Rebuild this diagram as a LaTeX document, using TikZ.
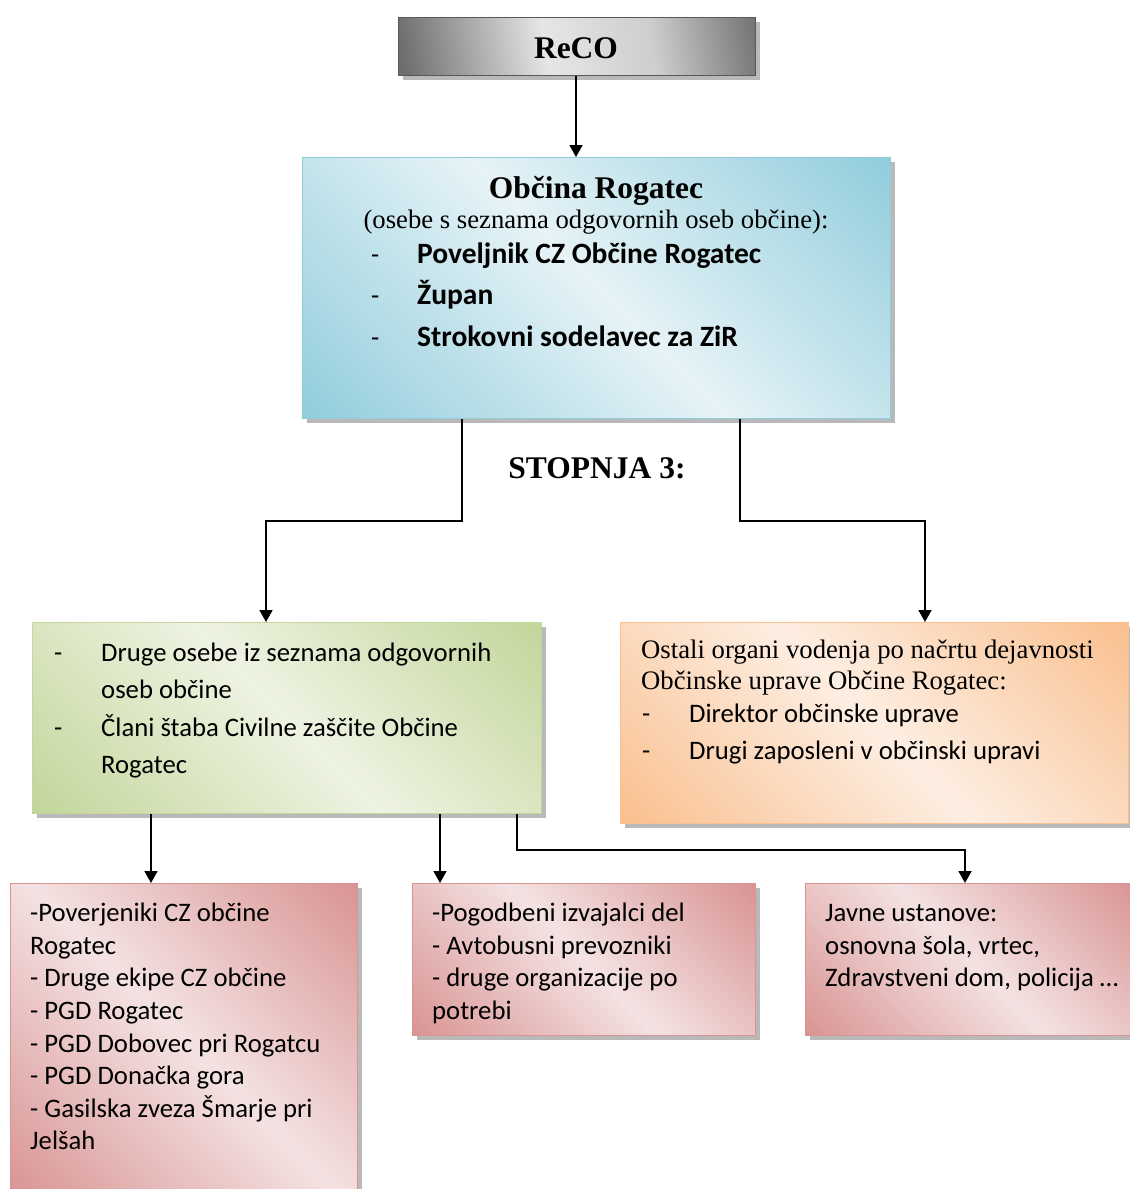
\documentclass[tikz,border=0pt]{standalone}
\usepackage{fontspec}
\setmainfont{Liberation Serif}
\newfontfamily\calfont{Carlito}
\usetikzlibrary{arrows.meta,shadows}
\definecolor{grdark}{HTML}{6E6E6E}
\definecolor{grlight}{HTML}{E6E6E6}
\definecolor{bldark}{HTML}{92CDDC}
\definecolor{bllight}{HTML}{E6F3F7}
\definecolor{gndark}{HTML}{C3D69B}
\definecolor{gnlight}{HTML}{EEF3E2}
\definecolor{ordark}{HTML}{FAC090}
\definecolor{orlight}{HTML}{FDEEE2}
\definecolor{rddark}{HTML}{D99594}
\definecolor{rdlight}{HTML}{F4E2E2}
\definecolor{shgr}{HTML}{A8A8A8}
\pgfdeclarehorizontalshading{shgray}{100bp}{color(0bp)=(grdark);color(22bp)=(grdark);color(45bp)=(grlight);color(62bp)=(grlight!80!grdark);color(80bp)=(grdark);color(100bp)=(grdark)}
\pgfdeclarehorizontalshading{shblue}{100bp}{color(0bp)=(bldark);color(15bp)=(bldark);color(50bp)=(bllight);color(85bp)=(bldark);color(100bp)=(bldark)}
\pgfdeclarehorizontalshading{shgreen}{100bp}{color(0bp)=(gndark);color(15bp)=(gndark);color(50bp)=(gnlight);color(85bp)=(gndark);color(100bp)=(gndark)}
\pgfdeclarehorizontalshading{shorange}{100bp}{color(0bp)=(ordark);color(15bp)=(ordark);color(50bp)=(orlight);color(85bp)=(ordark);color(100bp)=(ordark)}
\pgfdeclarehorizontalshading{shred}{100bp}{color(0bp)=(rddark);color(15bp)=(rddark);color(50bp)=(rdlight);color(85bp)=(rddark);color(100bp)=(rddark)}
\tikzset{
  boxbase/.style={rectangle, inner sep=0pt, anchor=north west, line width=1pt,
    drop shadow={shadow xshift=4pt, shadow yshift=-4pt, fill=shgr, opacity=0.8}},
  arr/.style={line width=1.8pt, -{Triangle[length=12pt,width=13pt]}},
  ln/.style={anchor=base west, inner sep=0pt},
  serif/.style={font=\fontsize{26.7}{30}\selectfont},
  sans/.style={font=\calfont\fontsize{26.7}{30}\selectfont},
  sansb/.style={font=\calfont\bfseries\fontsize{29.5}{32}\selectfont},
  big/.style={font=\bfseries\fontsize{31.5}{34}\selectfont},
}
\begin{document}
\begin{tikzpicture}[x=1pt,y=-1pt]
\useasboundingbox (0,0) rectangle (1130,1189);
% boxes
\node[boxbase, draw=grdark!80!black, shading=shgray, shading angle=10, minimum width=357pt, minimum height=58pt] (reco) at (398,17) {};
\node[boxbase, draw=bldark, shading=shblue, shading angle=45, minimum width=588pt, minimum height=261pt] (obc) at (302,157) {};
\node[boxbase, draw=gndark, shading=shgreen, shading angle=45, minimum width=509pt, minimum height=191pt] (grn) at (32,622) {};
\node[boxbase, draw=ordark, shading=shorange, shading angle=45, minimum width=508pt, minimum height=201pt] (org) at (620,622) {};
\node[boxbase, draw=rddark, shading=shred, shading angle=45, minimum width=347pt, minimum height=312pt] (rd1) at (10,883) {};
\node[boxbase, draw=rddark, shading=shred, shading angle=45, minimum width=343pt, minimum height=152pt] (rd2) at (412,883) {};
\node[boxbase, draw=rddark, shading=shred, shading angle=45, minimum width=330pt, minimum height=152pt] (rd3) at (805,883) {};
% texts
\node[big, anchor=base, inner sep=0pt] (tr) at (576,58) {ReCO};
\node[big, anchor=base, inner sep=0pt] (to1) at (596,198) {Občina Rogatec};
\node[serif, anchor=base, inner sep=0pt] (to2) at (596,228) {(osebe s seznama odgovornih oseb občine):};
\node[sans, ln] (to3d) at (371,263) {-};
\node[sansb, ln] (to3) at (417,263) {Poveljnik CZ Občine Rogatec};
\node[sans, ln] (to4d) at (371,304) {-};
\node[sansb, ln] (to4) at (417,304) {Župan};
\node[sans, ln] (to5d) at (371,346) {-};
\node[sansb, ln] (to5) at (417,346) {Strokovni sodelavec za ZiR};
\node[big, anchor=base, inner sep=0pt] (st) at (597,478) {STOPNJA 3:};
% green
\node[sans, ln] (tg1d) at (54,661) {-};
\node[sans, ln] (tg1) at (101,661) {Druge osebe iz seznama odgovornih};
\node[sans, ln] (tg2) at (101,698) {oseb občine};
\node[sans, ln] (tg3d) at (54,736) {-};
\node[sans, ln] (tg3) at (101,736) {Člani štaba Civilne zaščite Občine};
\node[sans, ln] (tg4) at (101,773) {Rogatec};
% orange
\node[serif, ln] (tor1) at (641,658) {Ostali organi vodenja po načrtu dejavnosti};
\node[serif, ln] (tor2) at (641,689) {Občinske uprave Občine Rogatec:};
\node[sans, ln] (tor3d) at (642,722) {-};
\node[sans, ln] (tor3) at (689,722) {Direktor občinske uprave};
\node[sans, ln] (tor4d) at (642,759) {-};
\node[sans, ln] (tor4) at (689,759) {Drugi zaposleni v občinski upravi};
% red 1
\node[sans, ln] (r11) at (30,921) {-Poverjeniki CZ občine};
\node[sans, ln] (r12) at (30,954) {Rogatec};
\node[sans, ln] (r13) at (30,986) {- Druge ekipe CZ občine};
\node[sans, ln] (r14) at (30,1019) {- PGD Rogatec};
\node[sans, ln] (r15) at (30,1052) {- PGD Dobovec pri Rogatcu};
\node[sans, ln] (r16) at (30,1084) {- PGD Donačka gora};
\node[sans, ln] (r17) at (30,1117) {- Gasilska zveza Šmarje pri};
\node[sans, ln] (r18) at (30,1149) {Jelšah};
% red 2
\node[sans, ln] (r21) at (432,921) {-Pogodbeni izvajalci del};
\node[sans, ln] (r22) at (432,954) {- Avtobusni prevozniki};
\node[sans, ln] (r23) at (432,986) {- druge organizacije po};
\node[sans, ln] (r24) at (432,1019) {potrebi};
% red 3
\node[sans, ln] (r31) at (825,921) {Javne ustanove:};
\node[sans, ln] (r32) at (825,954) {osnovna šola, vrtec,};
\node[sans, ln] (r33) at (825,986) {Zdravstveni dom, policija …};
% connectors
\coordinate (j1) at (266,521);
\coordinate (j2) at (925,521);
\coordinate (j3) at (965,850);
\draw[arr] (reco.south -| 576,0) -- (576,157 |- obc.north);
\draw[arr] ([xshift=160pt]obc.south west) |- (j1) -- (j1 |- grn.north);
\draw[arr] ([xshift=438pt]obc.south west) |- (j2) -- (j2 |- org.north);
\draw[arr] ([xshift=119pt]grn.south west) -- ([xshift=141pt]rd1.north west);
\draw[arr] ([xshift=408pt]grn.south west) -- ([xshift=28pt]rd2.north west);
\draw[arr] ([xshift=485pt]grn.south west) |- (j3) -- (j3 |- rd3.north);
\end{tikzpicture}
\end{document}
